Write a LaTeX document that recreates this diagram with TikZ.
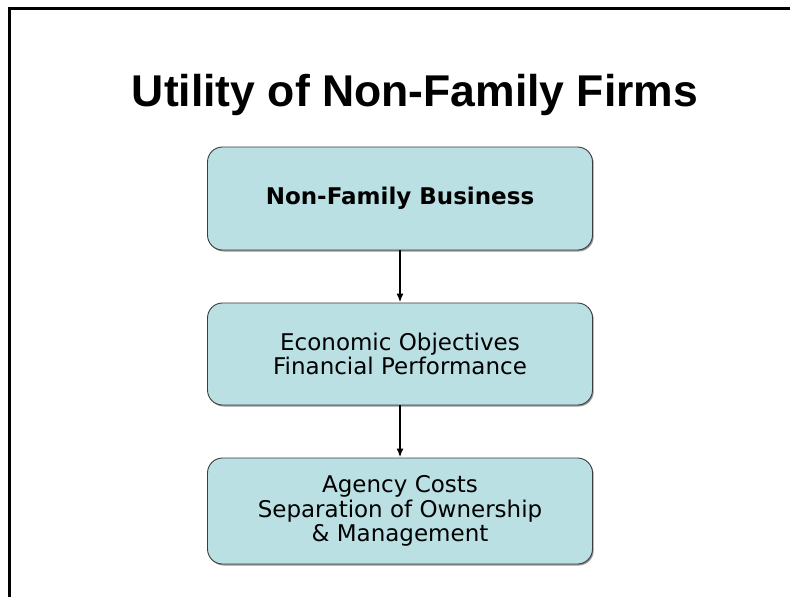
\documentclass[tikz,border=0pt]{standalone}
\usepackage{fontspec}
\setmainfont{Liberation Sans}
\newfontfamily\boxfont{DejaVu Sans}
\usetikzlibrary{arrows.meta,shadows}
\definecolor{boxfill}{RGB}{186,224,227}
\definecolor{boxline}{RGB}{60,60,60}
\tikzset{
  flowbox/.style={draw=boxline, line width=0.9pt, fill=boxfill, rounded corners=15pt,
    minimum width=385pt, align=center, font=\boxfont\fontsize{23}{24.5}\selectfont,
    drop shadow={shadow xshift=1.2pt, shadow yshift=-1.5pt, fill=black!45, opacity=0.9}},
  flowarrow/.style={draw=black, line width=2pt, -{Latex[length=9pt,width=7pt]}},
}
\begin{document}
\begin{tikzpicture}[x=1pt,y=-1pt]
\useasboundingbox (0,0) rectangle (790,597);
\fill[white] (0,0) rectangle (790,597);
\coordinate (fb) at (9,597);
\coordinate (ft) at (9,8);
\coordinate (fr) at (790,8);
\draw[line width=3pt] (fb) -- (ft) -- (fr);
\node[anchor=base, font=\bfseries\fontsize{44.5}{50}\selectfont] (title) at (415,106) {Utility of Non-Family Firms};
\node[flowbox, minimum height=103pt] (b1) at (400,198.5) {\bfseries Non-Family Business};
\node[flowbox, minimum height=102pt] (b2) at (400,354) {Economic Objectives\\Financial Performance};
\node[flowbox, minimum height=106pt, text depth=5pt] (b3) at (400,511) {Agency Costs\\Separation of Ownership\\\& Management};
\path[flowarrow] (b1.south) -- (b2.north);
\path[flowarrow] (b2.south) -- (b3.north);
\end{tikzpicture}
\end{document}
